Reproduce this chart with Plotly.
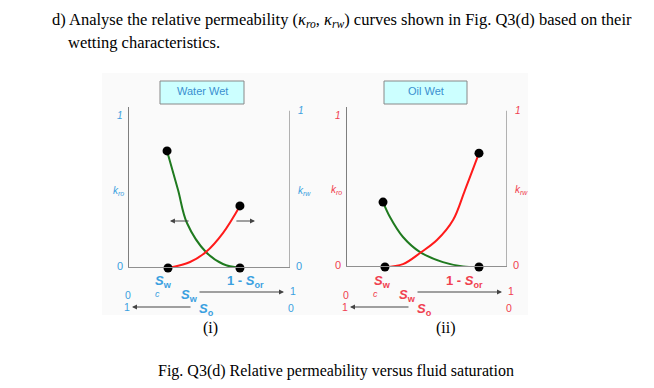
import plotly.graph_objects as go

W, H = 654, 388

# ---- data ----
# Panel (i) water wet
ww_sw_kro = [0.241, 0.309, 0.364, 0.481, 0.586, 0.691]
ww_kro = [0.760, 0.506, 0.292, 0.104, 0.026, 0.0]
ww_sw_krw = [0.247, 0.383, 0.481, 0.586, 0.691]
ww_krw = [0.0, 0.039, 0.104, 0.227, 0.403]
# Panel (ii) oil wet
ow_sw_kro = [0.230, 0.273, 0.354, 0.460, 0.602, 0.727, 0.826]
ow_kro = [0.422, 0.325, 0.195, 0.097, 0.032, 0.004, 0.0]
ow_sw_krw = [0.242, 0.354, 0.460, 0.565, 0.665, 0.739, 0.826]
ow_krw = [0.0, 0.019, 0.091, 0.175, 0.305, 0.500, 0.740]

panel_titles = ["Water Wet", "Oil Wet"]
panel_labels = ["(i)", "(ii)"]

GREEN = "#1f7a1f"
RED = "#ff1a1a"
BLUE_T = "#3aa0e0"
RED_T = "#f0404f"


def px(x):
    return x / W


def py(y):
    return 1 - y / H


def txt(x, y, text, font, xa="center", ya="middle"):
    return dict(x=px(x), y=py(y), xref="paper", yref="paper", text=text, showarrow=False,
                xanchor=xa, yanchor=ya, font=font)


fig = go.Figure()

panels = [
    dict(xa="x", ya="y", ytop=1.045, rtop=1.02,
         sw_o=ww_sw_kro, kro=ww_kro, sw_w=ww_sw_krw, krw=ww_krw, col=BLUE_T),
    dict(xa="x2", ya="y2", ytop=1.04, rtop=1.015,
         sw_o=ow_sw_kro, kro=ow_kro, sw_w=ow_sw_krw, krw=ow_krw, col=RED_T),
]

shapes = []
ann = []

# light background panel
shapes.append(dict(type="rect", xref="paper", yref="paper", x0=px(102), x1=px(528),
                   y0=py(315), y1=py(73), fillcolor="#fafafa", line=dict(width=0), layer="below"))

for i, p in enumerate(panels):
    fig.add_trace(go.Scatter(x=p["sw_o"], y=p["kro"], xaxis=p["xa"], yaxis=p["ya"], mode="lines",
                             line=dict(color=GREEN, width=2, shape="spline"), cliponaxis=False,
                             showlegend=False, hoverinfo="skip"))
    fig.add_trace(go.Scatter(x=p["sw_w"], y=p["krw"], xaxis=p["xa"], yaxis=p["ya"], mode="lines",
                             line=dict(color=RED, width=2, shape="spline"), cliponaxis=False,
                             showlegend=False, hoverinfo="skip"))
    # end points
    fig.add_trace(go.Scatter(x=[p["sw_o"][0], p["sw_o"][-1], p["sw_w"][0], p["sw_w"][-1]],
                             y=[p["kro"][0], p["kro"][-1], p["krw"][0], p["krw"][-1]],
                             xaxis=p["xa"], yaxis=p["ya"], mode="markers",
                             marker=dict(color="black", size=9), cliponaxis=False,
                             showlegend=False, hoverinfo="skip"))
    xr, yr = p["xa"], p["ya"]
    # axis lines
    shapes.append(dict(type="line", xref=xr, yref=yr, x0=0, x1=0, y0=0, y1=p["ytop"],
                       line=dict(color="#555555", width=1.5)))
    shapes.append(dict(type="line", xref=xr, yref=yr, x0=1, x1=1, y0=0, y1=p["rtop"],
                       line=dict(color="#999999", width=1.5)))
    shapes.append(dict(type="line", xref=xr, yref=yr, x0=0, x1=1, y0=0, y1=0,
                       line=dict(color="#8f8f8f", width=2)))
    c = p["col"]
    f = dict(family="Arial", size=10, color=c)
    f0 = dict(family="Arial", size=11, color=c)
    # axis labels
    ann += [
        dict(x=0, y=1, xref=xr, yref=yr, text="<i>1</i>", showarrow=False, xanchor="right", yanchor="middle", xshift=-3, yshift=-2, font=f),
        dict(x=0, y=0.5, xref=xr, yref=yr, text="<i>k<sub>ro</sub></i>", showarrow=False, xanchor="right", yanchor="middle", xshift=-2, font=f),
        dict(x=0, y=0, xref=xr, yref=yr, text="0", showarrow=False, xanchor="right", yanchor="middle", xshift=-3, yshift=2, font=f0),
        dict(x=1, y=1.02, xref=xr, yref=yr, text="<i>1</i>", showarrow=False, xanchor="left", yanchor="middle", xshift=6, font=f),
        dict(x=1, y=0.5, xref=xr, yref=yr, text="<i>k<sub>rw</sub></i>", showarrow=False, xanchor="left", yanchor="middle", xshift=6, font=f),
        dict(x=1, y=0, xref=xr, yref=yr, text="0", showarrow=False, xanchor="left", yanchor="middle", xshift=4, yshift=2, font=f0),
    ]
    # title box
    bx0, bx1 = (160, 244) if i == 0 else (384, 467)
    shapes.append(dict(type="rect", xref="paper", yref="paper", x0=px(bx0), x1=px(bx1), y0=py(104), y1=py(81),
                       fillcolor="#ccffff", line=dict(color="#888888", width=1)))
    ann.append(txt((bx0 + bx1) / 2, 91, panel_titles[i], dict(family="Arial", size=11, color="#3a8fd0")))
    # saturation labels below axis
    ox = 0 if i == 0 else 218
    fb = dict(family="Arial", size=13, color=c)
    fs = dict(family="Arial", size=10.5, color=c)
    ann += [
        txt(164 + ox, 281, "<b><i>S</i><sub>w</sub></b>", fb),
        txt(157 + ox, 294, "<i>c</i>", dict(family="Arial", size=9, color=c)),
        txt(245 if i == 0 else 465, 281, "<b>1 - <i>S</i><sub>or</sub></b>", fb),
        txt(128 + ox, 295, "0", fs),
        txt(189 + ox, 295, "<b><i>S</i><sub>w</sub></b>", fb),
        txt(293 + ox, 291, "1", fs),
        txt(127 + ox, 307, "1", fs),
        txt(206 + ox, 309, "<b><i>S</i><sub>o</sub></b>", fb),
        txt(291 + ox, 308, "0", fs),
    ]
    # direction arrows
    ann += [
        dict(x=px(284 + ox), y=py(292), xref="paper", yref="paper", ax=-86, ay=0, text="", showarrow=True,
             arrowhead=2, arrowsize=1, arrowwidth=1, arrowcolor="#444444"),
        dict(x=px(132 + ox), y=py(307), xref="paper", yref="paper", ax=60, ay=0, text="", showarrow=True,
             arrowhead=2, arrowsize=1, arrowwidth=1, arrowcolor="#444444"),
    ]
    ann.append(txt(210 if i == 0 else 446, 328, panel_labels[i],
                   dict(family="Liberation Serif", size=16, color="black")))

# horizontal arrows in panel (i)
ann += [
    dict(x=0.259, y=0.305, xref="x", yref="y", ax=0.383, ay=0.305, axref="x", ayref="y", text="", showarrow=True,
         arrowhead=2, arrowsize=1, arrowwidth=1, arrowcolor="#444444"),
    dict(x=0.784, y=0.305, xref="x", yref="y", ax=0.66, ay=0.305, axref="x", ayref="y", text="", showarrow=True,
         arrowhead=2, arrowsize=1, arrowwidth=1, arrowcolor="#444444"),
]

serif = dict(family="Liberation Serif", size=16.5, color="black")
ann += [
    txt(50, 20, "d) Analyse the relative permeability (<i>κ<sub>ro</sub></i>, <i>κ<sub>rw</sub></i>) curves shown in Fig. Q3(d) based on their",
        serif, xa="left"),
    txt(66, 42, "wetting characteristics.", serif, xa="left"),
    txt(336, 371, "Fig. Q3(d) Relative permeability versus fluid saturation", dict(family="Liberation Serif", size=16, color="black")),
]

ax_common = dict(visible=False, fixedrange=True)
fig.update_layout(
    width=W, height=H, margin=dict(l=0, r=0, t=0, b=0),
    paper_bgcolor="white", plot_bgcolor="rgba(0,0,0,0)",
    xaxis=dict(domain=[px(128), px(290)], range=[0, 1], anchor="y", **ax_common),
    yaxis=dict(domain=[py(268), py(107)], range=[0, 1.045], anchor="x", **ax_common),
    xaxis2=dict(domain=[px(346), px(507)], range=[0, 1], anchor="y2", **ax_common),
    yaxis2=dict(domain=[py(267), py(107)], range=[0, 1.04], anchor="x2", **ax_common),
    shapes=shapes, annotations=ann,
)

fig.write_html("out.html", config=dict(displayModeBar=False),
               post_script="document.body.style.margin='0';document.body.style.overflow='hidden';")
